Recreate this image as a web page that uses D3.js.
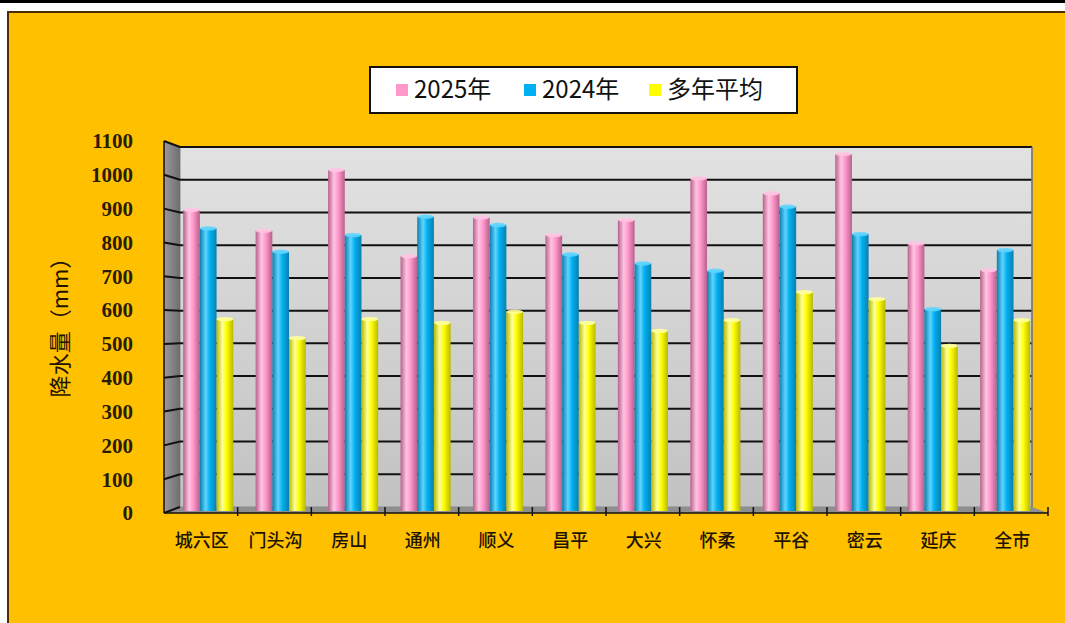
<!DOCTYPE html>
<html><head><meta charset="utf-8">
<script src="https://cdn.jsdelivr.net/npm/d3@7/dist/d3.min.js"></script>
<style>body{margin:0;background:#fff}svg{display:block}</style>
</head><body>
<script>
const categories = ["城六区","门头沟","房山","通州","顺义","昌平","大兴","怀柔","平谷","密云","延庆","全市"];
const seriesNames = ["2025年","2024年","多年平均"];
const v2025 = [902, 840, 1022, 764, 880, 827, 872, 997, 952, 1070, 802, 722];
const v2024 = [847, 777, 827, 882, 857, 769, 742, 720, 912, 830, 605, 782];
const vAvg  = [575, 518, 575, 564, 597, 564, 540, 572, 656, 635, 495, 572];
const yTicks = [0,100,200,300,400,500,600,700,800,900,1000,1100];
const yTitle = "降水量（mm）";

const W = 1065, H = 623;
const colors = {
  "2025年": {base:"#FF99CC", dark:"#b8608c", light:"#ffc4e2"},
  "2024年": {base:"#00B0F0", dark:"#0a7fae", light:"#5fd4ff"},
  "多年平均": {base:"#FFFF00", dark:"#b8b800", light:"#ffff9a"}
};
const data = categories.map((c,i)=>({cat:c, vals:[v2025[i], v2024[i], vAvg[i]]}));

const svg = d3.select("body").append("svg").attr("width",W).attr("height",H);
const defs = svg.append("defs");

// outer frame
svg.append("rect").attr("x",0).attr("y",0).attr("width",W).attr("height",3).attr("fill","#000");
svg.append("rect").attr("x",8).attr("y",12).attr("width",W+10).attr("height",H).attr("fill","#FFC000").attr("stroke","#4a2c05").attr("stroke-width",2);

// geometry
const fx0 = 164, fx1 = 1048, bx0 = 180, bx1 = 1032;
const yBack = d3.scaleLinear().domain([0,1100]).range([507,147]);
const yFront = d3.scaleLinear().domain([0,1100]).range([513,141]);
const yBar = d3.scaleLinear().domain([0,1100]).range([511,144]);
const x = d3.scaleBand().domain(categories).range([fx0, fx1]).padding(0);
const xBar = d3.scaleBand().domain(categories).range([172, 1041.4]).padding(0);
const x1 = d3.scaleBand().domain(seriesNames).range([0, xBar.bandwidth()]).paddingInner(0).paddingOuter(0.67);

// gradients
const gWall = defs.append("linearGradient").attr("id","gWall").attr("x1",0).attr("y1",0).attr("x2",0).attr("y2",1);
gWall.append("stop").attr("offset","0%").attr("stop-color","#e2e2e2");
gWall.append("stop").attr("offset","100%").attr("stop-color","#c2c2c2");
const gSide = defs.append("linearGradient").attr("id","gSide").attr("x1",0).attr("y1",0).attr("x2",1).attr("y2",0);
gSide.append("stop").attr("offset","0%").attr("stop-color","#9a9a9a");
gSide.append("stop").attr("offset","100%").attr("stop-color","#6e6e6e");
seriesNames.forEach((s,i)=>{
  const c = colors[s];
  const g = defs.append("linearGradient").attr("id","gb"+i).attr("x1",0).attr("y1",0).attr("x2",1).attr("y2",0);
  g.append("stop").attr("offset","0%").attr("stop-color",c.dark);
  g.append("stop").attr("offset","35%").attr("stop-color",c.light);
  g.append("stop").attr("offset","60%").attr("stop-color",c.base);
  g.append("stop").attr("offset","100%").attr("stop-color",c.dark);
});

// back wall
svg.append("rect").attr("x",bx0).attr("y",yBack(1100)).attr("width",bx1-bx0).attr("height",yBack(0)-yBack(1100))
  .attr("fill","url(#gWall)").attr("stroke","#888").attr("stroke-width",1);
// left wall
svg.append("polygon").attr("points",[[fx0,yFront(1100)],[bx0,yBack(1100)],[bx0,yBack(0)],[fx0,yFront(0)]].join(" "))
  .attr("fill","url(#gSide)");
// floor
svg.append("polygon").attr("points",[[fx0,yFront(0)],[bx0,yBack(0)],[bx1,yBack(0)],[fx1,yFront(0)]].join(" "))
  .attr("fill","#8f8f8f");

// gridlines on back wall
svg.append("g").selectAll("line").data(yTicks.filter(v=>v>0)).join("line")
  .attr("x1",bx0).attr("x2",bx1).attr("y1",d=>yBack(d)).attr("y2",d=>yBack(d))
  .attr("stroke","#111").attr("stroke-width",2);
// gridlines on side wall
svg.append("g").selectAll("line").data(yTicks).join("line")
  .attr("x1",fx0).attr("x2",bx0).attr("y1",d=>yFront(d)).attr("y2",d=>yBack(d))
  .attr("stroke","#111").attr("stroke-width",2);
// top edges
svg.append("line").attr("x1",bx0).attr("x2",bx1).attr("y1",yBack(1100)).attr("y2",yBack(1100)).attr("stroke","#111").attr("stroke-width",2);
svg.append("line").attr("x1",bx1).attr("x2",bx1).attr("y1",yBack(1100)).attr("y2",yBack(0)).attr("stroke","#777").attr("stroke-width",1.5);

// bars (cylinders)
const groups = svg.append("g").selectAll("g").data(data).join("g")
  .attr("transform",d=>`translate(${xBar(d.cat)},0)`);
groups.each(function(d){
  const g = d3.select(this);
  d.vals.forEach((v,i)=>{
    const s = seriesNames[i];
    const bx = x1(s), bw = x1.bandwidth();
    const top = yBar(v), bot = yBar(0);
    g.append("rect").attr("x",bx).attr("y",top).attr("width",bw).attr("height",bot-top).attr("fill",`url(#gb${i})`);
    g.append("ellipse").attr("cx",bx+bw/2).attr("cy",top).attr("rx",bw/2).attr("ry",2.2)
      .attr("fill",colors[s].light).attr("opacity",0.9);
  });
});

// front axis
svg.append("line").attr("x1",fx0).attr("x2",fx0).attr("y1",yFront(1100)).attr("y2",yFront(0)).attr("stroke","#111").attr("stroke-width",1.5);
svg.append("line").attr("x1",fx0).attr("x2",fx1).attr("y1",yFront(0)).attr("y2",yFront(0)).attr("stroke","#111").attr("stroke-width",1.5);
svg.append("g").selectAll("line").data(categories).join("line")
  .attr("x1",d=>x(d)+x.bandwidth()).attr("x2",d=>x(d)+x.bandwidth())
  .attr("y1",yFront(0)-6).attr("y2",yFront(0)+3).attr("stroke","#111").attr("stroke-width",1.5);

// y tick labels
svg.append("g").selectAll("text").data(yTicks).join("text")
  .attr("x",133).attr("y",d=>yFront(d)).attr("dy","0.35em").attr("text-anchor","end")
  .attr("font-family","'Liberation Serif', serif").attr("font-size",21).attr("font-weight","bold").attr("fill","#2a1c00")
  .text(d=>d);

// x labels
svg.append("g").selectAll("text").data(categories).join("text")
  .attr("x",d=>x(d)+x.bandwidth()/2+1).attr("y",541).attr("dy","0.35em").attr("text-anchor","middle")
  .attr("font-family","'Noto Sans CJK SC', sans-serif").attr("font-size",18).attr("font-weight",500).attr("fill","#1e1400")
  .text(d=>d);

// y title
svg.append("text").attr("transform","translate(60,322) rotate(-90)").attr("text-anchor","middle").attr("dy","0.35em")
  .attr("font-family","'Noto Sans CJK SC', sans-serif").attr("font-size",22).attr("fill","#1e1400")
  .text(yTitle);

// legend
const lg = svg.append("g");
lg.append("rect").attr("x",370).attr("y",67).attr("width",427).attr("height",46).attr("fill","#fff").attr("stroke","#111").attr("stroke-width",2);
const legX = [396, 524, 649];
seriesNames.forEach((s,i)=>{
  lg.append("rect").attr("x",legX[i]).attr("y",84).attr("width",12).attr("height",12).attr("fill",colors[s].base);
  lg.append("text").attr("x",legX[i]+18).attr("y",98).attr("font-family","'Noto Sans CJK SC', sans-serif")
    .attr("font-size",24).attr("fill","#111").text(s);
});
</script>
</body></html>
